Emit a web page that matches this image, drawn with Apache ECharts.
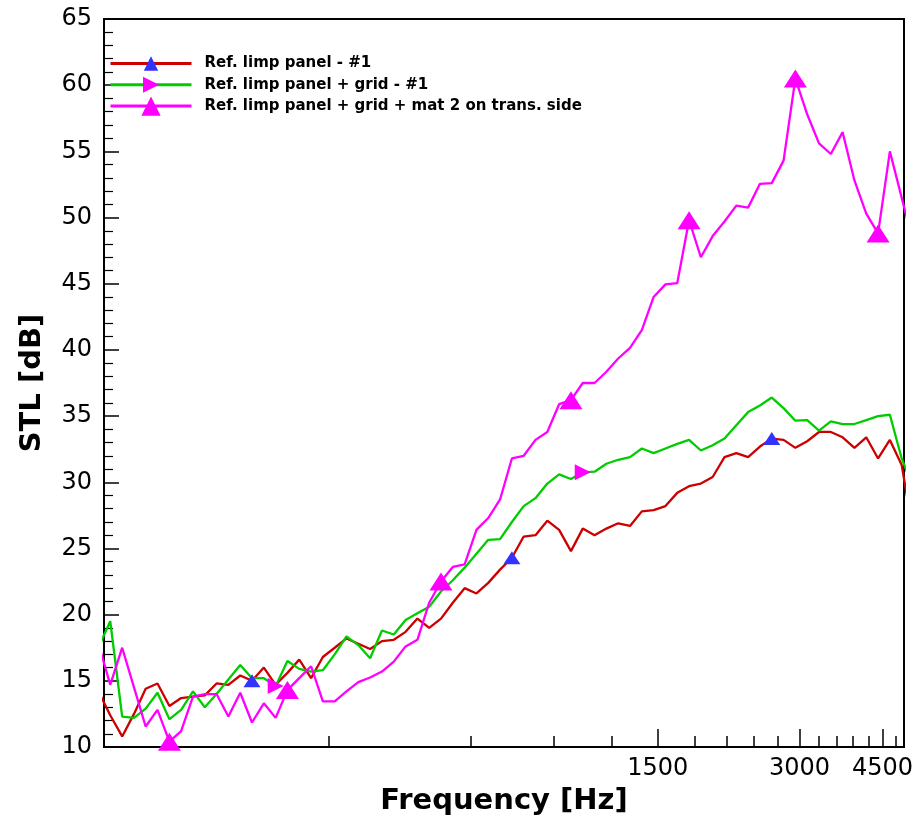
<!DOCTYPE html>
<html><head><meta charset="utf-8">
<script src="https://cdn.jsdelivr.net/npm/echarts@6.0.0/dist/echarts.min.js"></script>
<style>html,body{margin:0;padding:0;background:#fff}#c{width:917px;height:821px}</style>
</head><body><div id="c"></div>
<script>
// 1/12-octave band frequencies [Hz]
const freq = [97.3, 103.1, 109.3, 115.8, 122.6, 129.9, 137.7, 145.8, 154.5, 163.7,
  173.4, 183.7, 194.7, 206.2, 218.5, 231.5, 245.2, 259.8, 275.3, 291.6,
  309.0, 327.3, 346.8, 367.4, 389.3, 412.5, 437.0, 463.0, 490.5, 519.6,
  550.5, 583.3, 618.0, 654.7, 693.6, 734.9, 778.6, 824.9, 873.9, 925.9,
  981.0, 1039.3, 1101.1, 1166.6, 1236.0, 1309.5, 1387.3, 1469.8, 1557.2, 1649.8,
  1747.9, 1851.8, 1961.9, 2078.6, 2202.2, 2333.1, 2471.9, 2618.9, 2774.6, 2939.6,
  3114.4, 3299.6, 3495.8, 3703.7, 3923.9, 4157.3, 4404.5, 4666.4, 4943.9, 5237.9];

// STL [dB]
const stlPanel = [14.2, 12.4, 10.8, 12.5, 14.4, 14.8, 13.1, 13.7, 13.8, 13.9,
  14.8, 14.7, 15.4, 15.0, 16.0, 14.7, 15.6, 16.6, 15.2, 16.8,
  17.5, 18.2, 17.8, 17.4, 18.0, 18.1, 18.7, 19.7, 19.0, 19.7,
  20.9, 22.0, 21.6, 22.4, 23.4, 24.3, 25.9, 26.0, 27.1, 26.4,
  24.8, 26.5, 26.0, 26.5, 26.9, 26.7, 27.8, 27.9, 28.2, 29.2,
  29.7, 29.9, 30.4, 31.9, 32.2, 31.9, 32.7, 33.3, 33.2, 32.6,
  33.1, 33.8, 33.8, 33.4, 32.6, 33.4, 31.8, 33.2, 31.3, 26.0];

const stlGrid = [17.5, 19.5, 12.3, 12.2, 12.9, 14.1, 12.1, 12.8, 14.2, 13.0,
  14.0, 15.1, 16.2, 15.2, 15.2, 14.6, 16.5, 15.9, 15.7, 15.8,
  17.0, 18.35, 17.7, 16.7, 18.8, 18.5, 19.6, 20.1, 20.6, 21.75,
  22.6, 23.55, 24.6, 25.65, 25.7, 27.0, 28.2, 28.8, 29.9, 30.6,
  30.25, 30.75, 30.8, 31.4, 31.7, 31.9, 32.55, 32.2, 32.55, 32.9,
  33.2, 32.4, 32.8, 33.3, 34.3, 35.3, 35.8, 36.4, 35.6, 34.65,
  34.7, 33.9, 34.6, 34.4, 34.4, 34.7, 35.0, 35.1, 31.8, 29.5];

const stlMat2 = [17.8, 14.7, 17.5, 14.5, 11.55, 12.8, 10.4, 11.2, 13.8, 14.0,
  14.0, 12.3, 14.1, 11.85, 13.3, 12.2, 14.3, 15.2, 16.1, 13.45,
  13.45, 14.2, 14.9, 15.25, 15.7, 16.45, 17.6, 18.1, 20.9, 22.5,
  23.6, 23.8, 26.4, 27.3, 28.7, 31.8, 32.0, 33.2, 33.8, 35.9,
  36.2, 37.5, 37.5, 38.35, 39.35, 40.15, 41.5, 44.0, 44.95, 45.05,
  49.8, 47.0, 48.6, 49.7, 50.9, 50.75, 52.55, 52.6, 54.3, 60.5,
  57.8, 55.6, 54.8, 56.45, 52.8, 50.3, 48.8, 55.0, 51.5, 48.0];

// indices (into freq) of the points that carry a marker
const markPanel = [13, 35, 57];
const markGrid = [15, 41];
const markMat2 = [6, 16, 29, 40, 50, 59, 66];

const seriesNames = ['Ref. limp panel - #1', 'Ref. limp panel + grid - #1',
  'Ref. limp panel + grid + mat 2 on trans. side'];
const xMajorTicks = [1500, 3000, 4500];
const xMinorTicks = [300, 600, 900, 1200, 1800, 2100, 2400, 2700, 3300, 3600, 3900, 4200, 4800];

const FONT = 'DejaVu Sans';
const pts = v => freq.map((f, i) => [f, v[i]]);
const marks = (v, idx) => idx.map(i => [freq[i], v[i]]);

const styles = [
  {line: '#cc0000', mark: '#3333ff', size: [17, 13], rot: 0, legH: 18, legC: 65},
  {line: '#00cc00', mark: '#ff00ff', size: [16, 16], rot: -90, legH: 20, legC: 86.7},
  {line: '#ff00ff', mark: '#ff00ff', size: [23, 18], rot: 0, legH: 24, legC: 108.5}
];
const values = [stlPanel, stlGrid, stlMat2];
const markIdx = [markPanel, markGrid, markMat2];

const series = [];
values.forEach((v, i) => {
  series.push({
    type: 'line', name: seriesNames[i], data: pts(v), xAxisIndex: 0, yAxisIndex: 0,
    symbol: 'triangle', symbolSize: styles[i].size, symbolRotate: styles[i].rot,
    showSymbol: false, clip: true, z: 2 + i,
    lineStyle: {color: styles[i].line, width: 2.3},
    itemStyle: {color: styles[i].mark},
    emphasis: {disabled: true}
  });
});
values.forEach((v, i) => {
  series.push({
    type: 'scatter', name: 'markers ' + i, data: marks(v, markIdx[i]),
    xAxisIndex: 0, yAxisIndex: 0,
    symbol: 'triangle', symbolSize: styles[i].size, symbolRotate: styles[i].rot,
    itemStyle: {color: styles[i].mark, opacity: 1}, z: 10,
    emphasis: {disabled: true}
  });
});

const legends = seriesNames.map((n, i) => ({
  data: [{name: n, textStyle: {fontFamily: FONT, fontWeight: 'bold', fontSize: 15, color: '#000'}}],
  left: 109, top: styles[i].legC - styles[i].legH / 2, padding: 0,
  itemWidth: 81, itemHeight: styles[i].legH, selectedMode: false,
  lineStyle: {width: 3},
  textStyle: {fontFamily: FONT, fontWeight: 'bold', fontSize: 15, color: '#000', padding: [0, 0, 0, 8]}
}));

const chart = echarts.init(document.getElementById('c'));
chart.setOption({
  backgroundColor: '#fff',
  animation: false,
  legend: legends,
  grid: {left: 104, right: 13, top: 19, bottom: 72, show: true, borderColor: '#000', borderWidth: 2, backgroundColor: 'transparent'},
  xAxis: [{
    type: 'log', logBase: 10, min: 100, max: 5000, position: 'bottom',
    axisLine: {show: true, lineStyle: {color: '#000', width: 2}},
    axisTick: {show: true, inside: true, length: 18, customValues: xMajorTicks, lineStyle: {color: '#000', width: 1.5}},
    axisLabel: {show: true, customValues: xMajorTicks, fontFamily: FONT, fontSize: 24, color: '#000', margin: 10,
      formatter: v => String(Math.round(v))},
    splitLine: {show: false}, minorTick: {show: false},
    name: 'Frequency [Hz]', nameLocation: 'middle', nameGap: 40,
    nameTextStyle: {fontFamily: FONT, fontWeight: 'bold', fontSize: 29, color: '#000'}
  }, {
    type: 'log', logBase: 10, min: 100, max: 5000, position: 'bottom',
    axisLine: {show: false},
    axisTick: {show: true, inside: true, length: 11, customValues: xMinorTicks, lineStyle: {color: '#000', width: 1.5}},
    axisLabel: {show: false},
    splitLine: {show: false}
  }],
  yAxis: {
    type: 'value', min: 10, max: 65, interval: 5,
    axisLine: {show: true, lineStyle: {color: '#000', width: 2}},
    axisTick: {show: true, inside: true, length: 15, lineStyle: {color: '#000', width: 1.5}},
    minorTick: {show: true, splitNumber: 5, length: 9, lineStyle: {color: '#000', width: 1.2}},
    splitLine: {show: false}, minorSplitLine: {show: false},
    axisLabel: {fontFamily: FONT, fontSize: 24, color: '#000', margin: 12},
    name: 'STL [dB]', nameLocation: 'middle', nameGap: 57,
    nameTextStyle: {fontFamily: FONT, fontWeight: 'bold', fontSize: 29, color: '#000'}
  },
  series: series
});
</script>
</body></html>
